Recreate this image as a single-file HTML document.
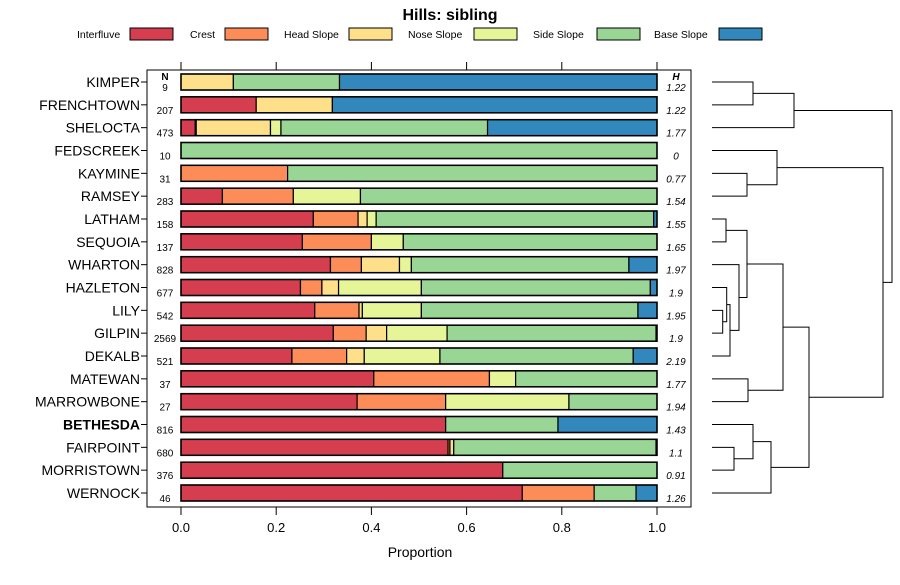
<!DOCTYPE html>
<html><head><meta charset="utf-8"><style>
body{margin:0;background:#fff;font-family:"Liberation Sans",sans-serif}
svg text{font-family:"Liberation Sans",sans-serif}
</style></head><body>
<svg id="chart" width="900" height="580" viewBox="0 0 900 580">
<text x="450" y="20" text-anchor="middle" font-size="16" font-weight="bold">Hills: sibling</text>
<g id="legend"></g>
<rect x="147" y="70" width="544" height="437" fill="none" stroke="#000" stroke-width="1"/>
<g id="bars"></g>
<g id="axes"></g>
<g id="dendro"></g>
<text x="420" y="557" text-anchor="middle" font-size="14">Proportion</text>
</svg>
<script>
const categories=["Interfluve","Crest","Head Slope","Nose Slope","Side Slope","Base Slope"];
const colors=["#D53E4F","#FC8D59","#FEE08B","#E6F598","#99D594","#3288BD"];
const series=["KIMPER","FRENCHTOWN","SHELOCTA","FEDSCREEK","KAYMINE","RAMSEY","LATHAM","SEQUOIA","WHARTON","HAZLETON","LILY","GILPIN","DEKALB","MATEWAN","MARROWBONE","BETHESDA","FAIRPOINT","MORRISTOWN","WERNOCK"];
const nValues=[9,207,473,10,31,283,158,137,828,677,542,2569,521,37,27,816,680,376,46];
const hValues=["1.22","1.22","1.77","0","0.77","1.54","1.55","1.65","1.97","1.9","1.95","1.9","2.19","1.77","1.94","1.43","1.1","0.91","1.26"];
const interfluve=[0,0.158,0.030,0,0,0.087,0.278,0.255,0.314,0.251,0.281,0.320,0.233,0.405,0.370,0.556,0.561,0.676,0.717];
const crest=[0,0,0.002,0,0.224,0.149,0.094,0.145,0.065,0.045,0.093,0.069,0.115,0.243,0.186,0,0.004,0,0.151];
const headSlope=[0.110,0.160,0.156,0,0,0,0.019,0,0.080,0.035,0.007,0.043,0.037,0,0,0,0.008,0,0];
const noseSlope=[0,0,0.022,0,0,0.141,0.019,0.067,0.025,0.174,0.124,0.127,0.159,0.055,0.259,0,0,0,0];
const sideSlope=[0.223,0,0.434,1,0.776,0.623,0.583,0.533,0.457,0.481,0.455,0.439,0.406,0.297,0.185,0.236,0.425,0.324,0.088];
const baseSlope=[0.667,0.682,0.356,0,0,0,0.007,0,0.059,0.014,0.040,0.002,0.050,0,0,0.208,0.002,0,0.044];
const xTicks=[0,0.2,0.4,0.6,0.8,1.0];
const xTickLabels=["0.0","0.2","0.4","0.6","0.8","1.0"];
const merges=[[0,1,41],[19,2,82],[4,5,35],[3,21,65],[6,7,14],[10,11,10.7],[9,24,14.7],[25,12,18],[8,26,27],[23,27,35],[13,14,36],[28,29,71],[16,17,22],[15,31,41],[32,18,59],[30,33,97],[22,34,171],[20,35,180]];

const NS="http://www.w3.org/2000/svg";
function mk(tag,attrs,parent,txt){const e=document.createElementNS(NS,tag);for(const k in attrs)e.setAttribute(k,attrs[k]);if(txt!==undefined)e.textContent=txt;parent.appendChild(e);return e;}
const x=v=>181+v*476;
const y=i=>82+i*(411/18);
const dx=h=>712+h;

const lg=document.getElementById('legend');
const legX=[[77,130],[190,225],[284,349],[408,474],[533,597],[654,719]];
categories.forEach((c,i)=>{
  const t=mk('text',{x:legX[i][0],y:38,'font-size':10.5},lg,c);
  
  
  const r=mk('rect',{x:legX[i][1],y:28,width:43,height:12,fill:colors[i],stroke:'#000','stroke-width':1},lg);
  
  
});

const data=[interfluve,crest,headSlope,noseSlope,sideSlope,baseSlope];
const bg=document.getElementById('bars');
const ax=document.getElementById('axes');
series.forEach((s,i)=>{
  const cy=y(i);let acc=0;
  data.forEach((arr,k)=>{
    const v=arr[i];if(v<=0)return;
    const r=mk('rect',{x:x(acc),y:cy-8,width:v*476,height:16,fill:colors[k],stroke:'#000','stroke-width':1.2},bg);
    
    
    acc+=v;
  });
  const o=mk('rect',{x:x(0),y:cy-8,width:476,height:16,fill:'none',stroke:'#000','stroke-width':1.5},bg);
  
  
  const l=mk('text',{x:140,y:cy+5,'text-anchor':'end','font-size':14,'font-weight':s==='BETHESDA'?'bold':'normal'},ax,s);
  
  
  mk('line',{x1:141,x2:147,y1:cy,y2:cy,stroke:'#000'},ax);
  const n=mk('text',{x:165,y:cy+9,'text-anchor':'middle','font-size':10},ax,nValues[i]);
  
  
  const h=mk('text',{x:676,y:cy+9,'text-anchor':'middle','font-size':10,'font-style':'italic'},ax,hValues[i]);
  
  
});
const nh=mk('text',{x:165,y:80,'text-anchor':'middle','font-size':10,'font-weight':'bold'},ax,'N');

const hh=mk('text',{x:676,y:80,'text-anchor':'middle','font-size':10,'font-weight':'bold','font-style':'italic'},ax,'H');

xTicks.forEach((t,i)=>{
  mk('line',{x1:x(t),x2:x(t),y1:62,y2:70,stroke:'#000'},ax);
  mk('line',{x1:x(t),x2:x(t),y1:507,y2:515,stroke:'#000'},ax);
  const tl=mk('text',{x:x(t),y:532,'text-anchor':'middle','font-size':13},ax,xTickLabels[i]);
  
  
});

const dg=document.getElementById('dendro');
const nodes=series.map((s,i)=>({y:y(i),h:0}));
merges.forEach(m=>{
  const a=nodes[m[0]],b=nodes[m[1]],h=m[2];
  const p=mk('path',{d:`M${dx(a.h)},${a.y}H${dx(h)}V${b.y}H${dx(b.h)}`,fill:'none',stroke:'#000','stroke-width':1},dg);
  
  
  nodes.push({y:(a.y+b.y)/2,h:h});
});
</script>
</body></html>
